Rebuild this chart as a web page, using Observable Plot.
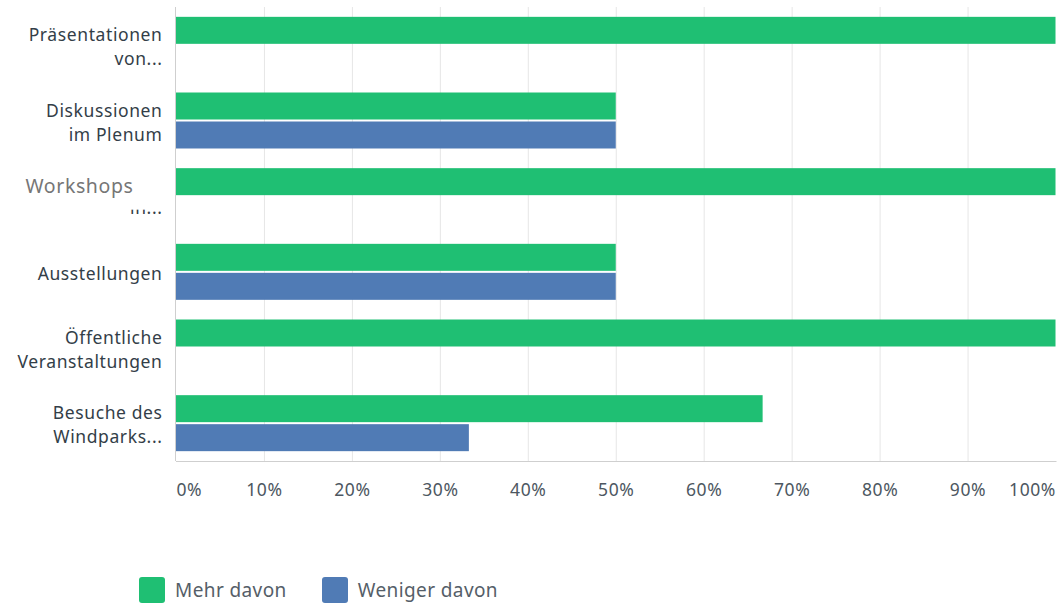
<!DOCTYPE html>
<html>
<head>
<meta charset="utf-8">
<script src="https://cdn.jsdelivr.net/npm/d3@7"></script>
<script src="https://cdn.jsdelivr.net/npm/@observablehq/plot@0.6"></script>
<style>
  body { margin: 0; background: #fff; font-family: "Noto Sans", sans-serif; }
  #legend { display: flex; align-items: center; margin-top: 67px; margin-left: 139px; font-size: 19px; color: #555e68; letter-spacing: 0.4px; }
  .item { display: flex; align-items: center; margin-right: 35px; }
  .sw { width: 26px; height: 26px; border-radius: 3px; margin-right: 10px; }
</style>
</head>
<body>
<div id="chart"></div>
<div id="legend"></div>
<script>
const categories = ["Präsentationen\nvon...", "Diskussionen\nim Plenum", "Workshops\nin...", "Ausstellungen", "Öffentliche\nVeranstaltungen", "Besuche des\nWindparks..."];
const series = ["Mehr davon", "Weniger davon"];
const mehrDavon = [100, 50, 100, 50, 100, 66.7];
const wenigerDavon = [0, 50, 0, 50, 0, 33.3];
const xTicks = [0, 10, 20, 30, 40, 50, 60, 70, 80, 90, 100];
const colors = ["#1fbf73", "#507bb5"];
const tipCategory = categories[2];

const mehrData = categories.map((c, i) => ({cat: c, value: mehrDavon[i]})).filter(d => d.value > 0);
const wenigerData = categories.map((c, i) => ({cat: c, value: wenigerDavon[i]})).filter(d => d.value > 0);

const font = "'Noto Sans', sans-serif";
const labelStyle = {fontSize: 17.5, fill: "#333e48"};
const tickStyle = {fontSize: 17.5, fill: "#4d5761"};
const plot = Plot.plot({
  width: 1057,
  height: 510,
  marginLeft: 176,
  marginRight: 1.5,
  marginTop: 7,
  marginBottom: 49,
  style: {fontFamily: font, background: "#fff", overflow: "visible"},
  x: {domain: [0, 100], axis: null},
  y: {domain: categories, paddingInner: 0.26, paddingOuter: 0.13, round: false},
  marks: [
    Plot.gridX(xTicks.slice(1, -1), {stroke: "#e6e6e6", strokeOpacity: 1}),
    Plot.barX(mehrData, {y: "cat", x: "value", fill: colors[0], insetBottom: 29}),
    Plot.barX(wenigerData, {y: "cat", x: "value", fill: colors[1], insetTop: 29}),
    Plot.ruleX([0], {stroke: "#cfcfcf", dx: -1}),
    Plot.frame({anchor: "bottom", stroke: "#cfcfcf"}),
    Plot.axisY({anchor: "left", tickSize: 0, tickPadding: 14, textAnchor: "end", lineHeight: 1.37, label: null, tickFormat: d => d === tipCategory ? "" : d, ...labelStyle}),
    // second line of the partly hidden label
    Plot.text([tipCategory], {y: d => d, text: d => d.split("\n")[1], frameAnchor: "left", textAnchor: "end", dx: -14, dy: 12, ...labelStyle}),
    Plot.text(xTicks.slice(0, 1), {x: d => d, text: d => d + "%", frameAnchor: "bottom", dy: 34, textAnchor: "start", ...tickStyle}),
    Plot.text(xTicks.slice(1, -1), {x: d => d, text: d => d + "%", frameAnchor: "bottom", dy: 34, textAnchor: "middle", ...tickStyle}),
    Plot.text(xTicks.slice(-1), {x: d => d, text: d => d + "%", frameAnchor: "bottom", dy: 34, textAnchor: "end", ...tickStyle}),
    // hover label
    Plot.text([tipCategory], {y: d => d, text: d => d.split("\n")[0], frameAnchor: "left", textAnchor: "start", dx: -151, dy: -10, fontSize: 19.5, fill: "#767676"})
  ]
});
document.getElementById("chart").appendChild(plot);
plot.querySelectorAll("text").forEach(t => t.style.letterSpacing = "0.6px");

// white backing box of the hover label, covering the top of the label below it
const texts = Array.from(plot.querySelectorAll("text"));
const [first, second] = tipCategory.split("\n");
const tipText = texts.find(t => t.textContent === first);
const secText = texts.find(t => t.textContent === second);
if (tipText && secText) {
  const sr = plot.getBoundingClientRect();
  const a = tipText.getBoundingClientRect();
  const b = secText.getBoundingClientRect();
  const r = document.createElementNS("http://www.w3.org/2000/svg", "rect");
  const x0 = a.left - sr.left - 12, x1 = b.right - sr.left + 4;
  const y0 = a.top - sr.top - 4, y1 = b.top - sr.top + b.height * 0.6;
  r.setAttribute("x", x0);
  r.setAttribute("y", y0);
  r.setAttribute("width", x1 - x0);
  r.setAttribute("height", y1 - y0);
  r.setAttribute("fill", "#fff");
  const g = tipText.closest("svg > g") || tipText.parentNode;
  g.parentNode.insertBefore(r, g);
}

const legend = document.getElementById("legend");
series.forEach((s, i) => {
  const it = document.createElement("div");
  it.className = "item";
  it.innerHTML = `<div class="sw" style="background:${colors[i]}"></div><span>${s}</span>`;
  legend.appendChild(it);
});
</script>
</body>
</html>
